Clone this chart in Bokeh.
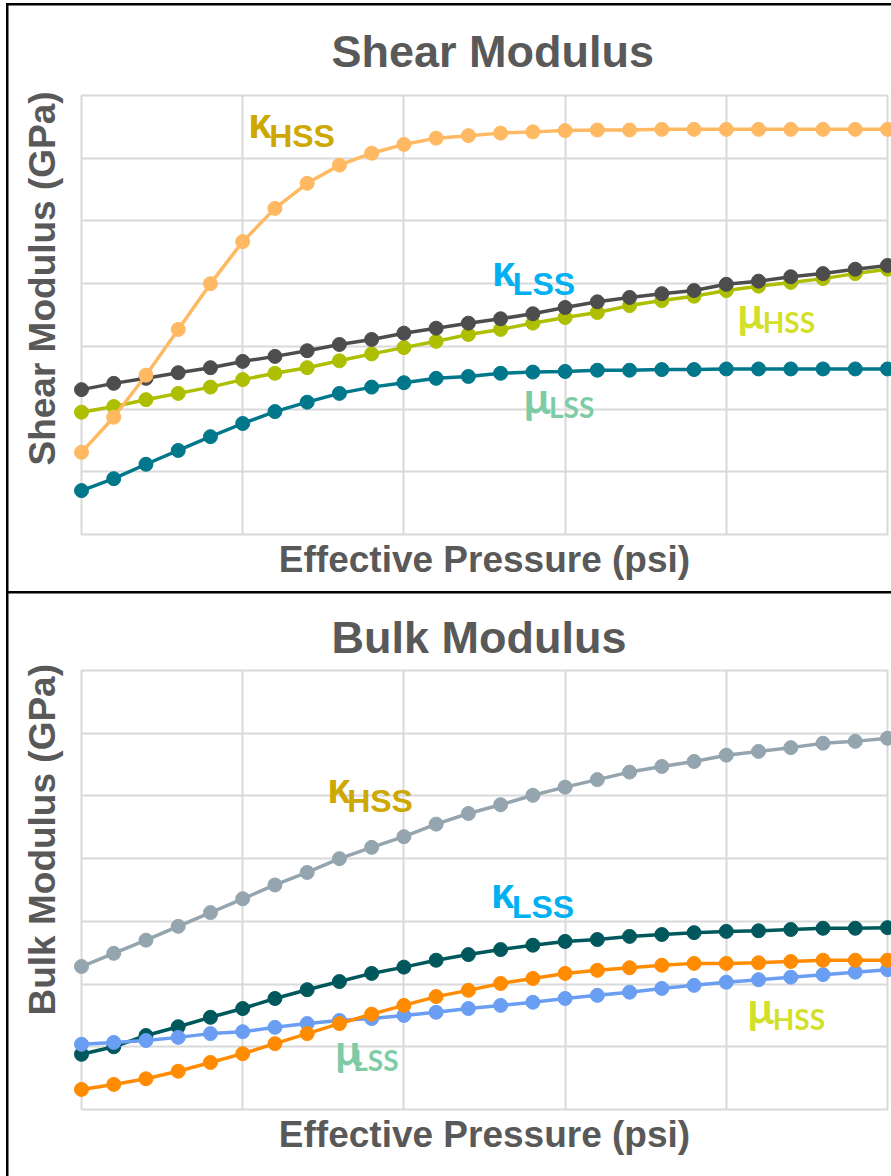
from bokeh.plotting import figure
from bokeh.models import FixedTicker, Label, Range1d, Title
from bokeh.layouts import column
from bokeh.embed import file_html
from bokeh.resources import INLINE

# Pressure steps along the horizontal axis
pressure = list(range(26))

# Shear modulus curves
shear_orange = [1.31, 1.87, 2.54, 3.27, 4.00, 4.67, 5.20, 5.60, 5.89, 6.08, 6.22, 6.32, 6.36,
                6.40, 6.42, 6.44, 6.45, 6.45, 6.46, 6.46, 6.46, 6.46, 6.46, 6.46, 6.46, 6.46]
shear_gray = [2.31, 2.41, 2.49, 2.58, 2.66, 2.76, 2.84, 2.93, 3.03, 3.11, 3.21, 3.29, 3.37,
              3.44, 3.52, 3.62, 3.71, 3.78, 3.84, 3.89, 3.99, 4.04, 4.11, 4.16, 4.23, 4.29]
shear_green = [1.95, 2.04, 2.15, 2.25, 2.35, 2.47, 2.57, 2.66, 2.77, 2.88, 2.98, 3.08, 3.19,
               3.27, 3.37, 3.46, 3.54, 3.65, 3.73, 3.80, 3.89, 3.96, 4.02, 4.08, 4.16, 4.23]
shear_teal = [0.70, 0.89, 1.12, 1.34, 1.56, 1.77, 1.96, 2.11, 2.25, 2.35, 2.42, 2.49, 2.52,
              2.57, 2.59, 2.60, 2.62, 2.62, 2.63, 2.63, 2.64, 2.64, 2.64, 2.64, 2.64, 2.64]

# Bulk modulus curves
bulk_gray = [2.28, 2.49, 2.70, 2.92, 3.14, 3.36, 3.58, 3.78, 4.00, 4.18, 4.35, 4.55, 4.72,
             4.86, 5.01, 5.14, 5.26, 5.38, 5.47, 5.55, 5.65, 5.71, 5.77, 5.84, 5.87, 5.92]
bulk_teal = [0.88, 1.00, 1.18, 1.32, 1.47, 1.61, 1.77, 1.91, 2.04, 2.17, 2.27, 2.38, 2.47,
             2.55, 2.62, 2.68, 2.71, 2.76, 2.79, 2.82, 2.84, 2.85, 2.87, 2.89, 2.89, 2.90]
bulk_orange = [0.32, 0.40, 0.49, 0.61, 0.75, 0.89, 1.05, 1.21, 1.37, 1.52, 1.66, 1.80, 1.90,
               2.01, 2.09, 2.17, 2.22, 2.26, 2.30, 2.33, 2.33, 2.34, 2.36, 2.38, 2.38, 2.38]
bulk_blue = [1.04, 1.07, 1.10, 1.15, 1.21, 1.24, 1.31, 1.37, 1.42, 1.45, 1.50, 1.55, 1.61,
             1.66, 1.71, 1.77, 1.82, 1.87, 1.93, 1.98, 2.03, 2.07, 2.11, 2.15, 2.19, 2.23]

grid_x = [0, 5, 10, 15, 20, 25]
grid_y = [0, 1, 2, 3, 4, 5, 6, 7]

TEXT_GRAY = "#595959"
GRID_GRAY = "#D9D9D9"
FONT = "Liberation Sans"
BAR = "linear-gradient(#000, #000)"


def make_panel(title, ylabel, height, top, bottom, left, right,
               title_standoff, ylabel_offset, frame_css):
    p = figure(width=891, height=height, x_range=Range1d(0, 25), y_range=Range1d(0, 7),
               output_backend="svg", toolbar_location=None,
               min_border_left=left, min_border_right=891 - right,
               min_border_top=top, min_border_bottom=height - bottom,
               styles={"background": frame_css})
    p.title.text = title
    p.title.align = "left"
    p.title.offset = 250
    p.title.standoff = title_standoff
    p.title.text_font = FONT
    p.title.text_font_size = "45px"
    p.title.text_font_style = "bold"
    p.title.text_color = TEXT_GRAY

    ax = p.xaxis
    ax.ticker = FixedTicker(ticks=[])
    ax.axis_line_color = None
    ax.major_tick_line_color = None
    ax.minor_tick_line_color = None
    ax.axis_label = "Effective Pressure (psi)"
    ax.axis_label_standoff = 4
    ax.axis_label_text_font = FONT
    ax.axis_label_text_font_size = "37px"
    ax.axis_label_text_font_style = "bold"
    ax.axis_label_text_color = TEXT_GRAY
    p.yaxis.visible = False

    # vertical axis title, raised a little from the foot of the plot area
    p.add_layout(Title(text=ylabel, align="left", vertical_align="top",
                       offset=ylabel_offset, standoff=33,
                       text_font=FONT, text_font_size="37px", text_font_style="bold",
                       text_color=TEXT_GRAY), "left")

    p.xgrid.ticker = FixedTicker(ticks=grid_x)
    p.ygrid.ticker = FixedTicker(ticks=grid_y)
    p.grid.grid_line_color = GRID_GRAY
    p.grid.grid_line_width = 2
    p.outline_line_color = GRID_GRAY
    p.outline_line_width = 2
    p.background_fill_color = "white"
    p.border_fill_color = None
    return p


def add_series(p, ys, color):
    p.line(pressure, ys, line_color=color, line_width=3.5, level="overlay")
    p.scatter(pressure, ys, size=14, fill_color=color, line_color=color, level="overlay")


def add_tag(p, greek, sub, color, x, y, sx, sy, font, gsize, ssize):
    p.add_layout(Label(x=x, y=y, text=greek, text_color=color, text_font=font,
                       text_font_size=gsize, text_font_style="bold",
                       text_baseline="alphabetic", text_align="left"))
    p.add_layout(Label(x=sx, y=sy, text=sub, text_color=color, text_font=font,
                       text_font_size=ssize, text_font_style="bold",
                       text_baseline="alphabetic", text_align="left"))


GOLD = "#CCA800"
SKY = "#00B0F0"
LIME = "#D3E02A"
MINT = "#7ECBA6"

# black panel frame: left edge, top edge and the divider at the foot
top_css = (f"{BAR} 6px 3px / 2.5px 589px no-repeat, "
           f"{BAR} 6px 3px / 885px 2.5px no-repeat, "
           f"{BAR} 6px 590.5px / 885px 1.5px no-repeat, white")
bottom_css = (f"{BAR} 6px 0px / 2.5px 584px no-repeat, "
              f"{BAR} 6px 0px / 885px 1.5px no-repeat, white")

top = make_panel("Shear Modulus", "Shear Modulus (GPa)", 592, 95, 534, 80, 887,
                 37, 69, top_css)
add_series(top, shear_teal, "#00778A")
add_series(top, shear_green, "#ADBF00")
add_series(top, shear_gray, "#4D4D4D")
add_series(top, shear_orange, "#FFB963")
add_tag(top, "κ", "HSS", GOLD, 5.17, 6.55, 5.82, 6.35, FONT, "42px", "32px")
add_tag(top, "κ", "LSS", SKY, 12.73, 4.19, 13.38, 4.00, FONT, "42px", "32px")
add_tag(top, "μ", "HSS", LIME, 20.35, 3.55, 21.13, 3.39, "Lato", "44px", "28px")
add_tag(top, "μ", "LSS", MINT, 13.72, 2.20, 14.50, 2.04, "Lato", "44px", "28px")

bottom = make_panel("Bulk Modulus", "Bulk Modulus (GPa)", 584, 78, 517, 81, 888,
                    15, 94, bottom_css)
add_series(bottom, bulk_teal, "#00585C")
add_series(bottom, bulk_blue, "#6A9EF2")
add_series(bottom, bulk_orange, "#FF8C00")
add_series(bottom, bulk_gray, "#94A5AF")
add_tag(bottom, "κ", "HSS", GOLD, 7.62, 5.12, 8.24, 4.92, FONT, "42px", "32px")
add_tag(bottom, "κ", "LSS", SKY, 12.70, 3.44, 13.35, 3.23, FONT, "42px", "32px")
add_tag(bottom, "μ", "HSS", LIME, 20.66, 1.64, 21.44, 1.45, "Lato", "44px", "28px")
add_tag(bottom, "μ", "LSS", MINT, 7.87, 0.97, 8.43, 0.79, "Lato", "44px", "28px")

layout = column(top, bottom, spacing=0)
open("out.html", "w").write(file_html(layout, INLINE))
